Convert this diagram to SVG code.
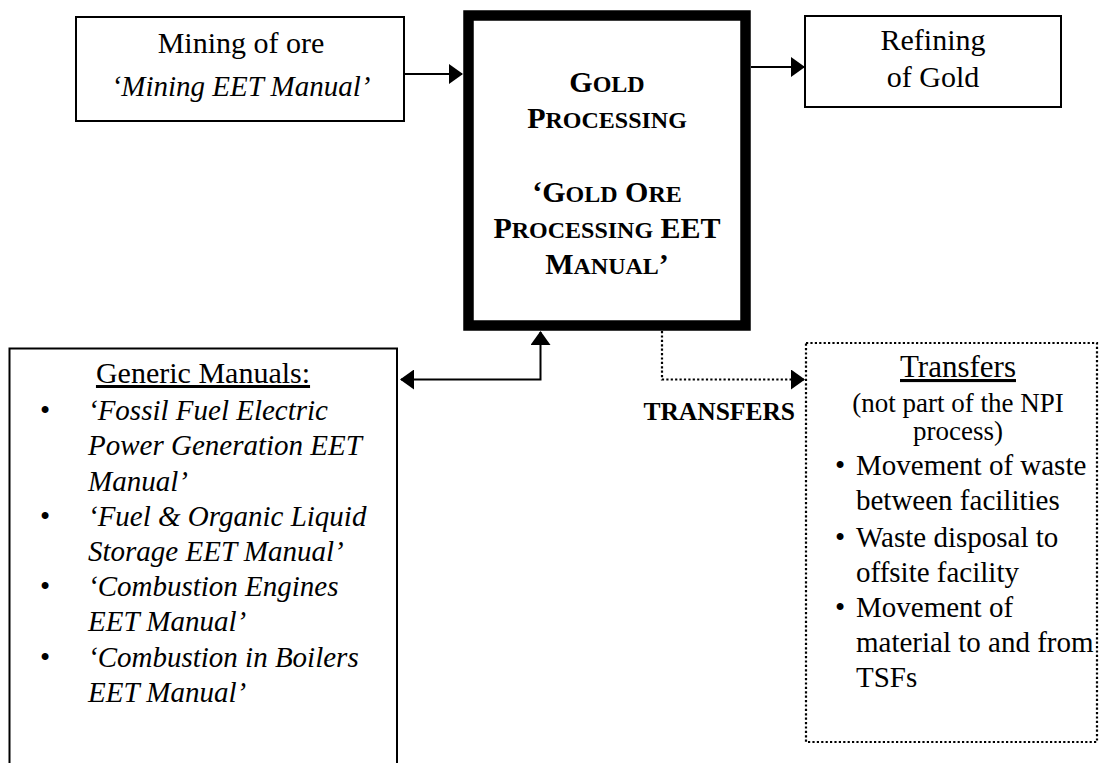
<svg xmlns="http://www.w3.org/2000/svg" width="1099" height="763" viewBox="0 0 1099 763">
  <style>
    .box { fill: #fff; stroke: #000; stroke-width: 2; }
    .thick { fill: #fff; stroke: #000; stroke-width: 10.5; }
    .dotbox { fill: none; stroke: #000; stroke-width: 2.2; stroke-dasharray: 2.2 2.2; }
    .t { font-family: "Liberation Serif", "Times New Roman", serif; fill: #000; }
    .b { font-weight: bold; }
    .i { font-style: italic; }
    .c { text-anchor: middle; }
    .link { fill: none; stroke: #000; stroke-width: 2; }
    .dotlink { fill: none; stroke: #000; stroke-width: 2.2; stroke-dasharray: 2.2 2.2; }
  </style>
  <defs>
    <marker id="ah" markerUnits="userSpaceOnUse" markerWidth="14" markerHeight="20" viewBox="0 0 14 20" refX="13" refY="10" orient="auto-start-reverse">
      <path d="M0,0 L14,10 L0,20 Z" fill="#000"/>
    </marker>
  </defs>

  <rect width="1099" height="763" fill="#fff"/>

  <!-- connectors -->
  <g id="connectors">
    <path class="link" d="M404,74 H462" marker-end="url(#ah)"/>
    <path class="link" d="M751,67 H804" marker-end="url(#ah)"/>
    <path class="link" d="M401,379.5 H540.5 V332" marker-start="url(#ah)" marker-end="url(#ah)"/>
    <path class="dotlink" d="M662,331 V379.5 H804" marker-end="url(#ah)"/>
  </g>

  <!-- mining -->
  <g id="mining">
    <rect class="box" x="76" y="17" width="328" height="104"/>
    <text class="t c" x="241" y="53" font-size="30">Mining of ore</text>
    <text class="t c i" x="241" y="96" font-size="29">‘Mining EET Manual’</text>
  </g>

  <!-- gold processing -->
  <g id="gold">
    <rect class="thick" x="468.5" y="15.5" width="277" height="310"/>
    <text class="t c b" x="607" y="92" font-size="30">G<tspan font-size="24">OLD</tspan></text>
    <text class="t c b" x="607" y="128" font-size="30">P<tspan font-size="24">ROCESSING</tspan></text>
    <text class="t c b" x="607" y="202" font-size="30">‘G<tspan font-size="24">OLD</tspan> O<tspan font-size="24">RE</tspan></text>
    <text class="t c b" x="607" y="238" font-size="30">P<tspan font-size="24">ROCESSING</tspan> EET</text>
    <text class="t c b" x="607" y="274" font-size="30">M<tspan font-size="24">ANUAL</tspan>’</text>
  </g>

  <!-- refining -->
  <g id="refining">
    <rect class="box" x="805" y="16" width="256" height="91"/>
    <text class="t c" x="933" y="50" font-size="30">Refining</text>
    <text class="t c" x="933" y="87" font-size="30">of Gold</text>
  </g>

  <!-- generic manuals -->
  <g id="generic">
    <rect class="box" x="9.5" y="348.5" width="387.5" height="440"/>
    <text class="t c" x="203" y="383" font-size="30" text-decoration="underline">Generic Manuals:</text>
    <g class="t" font-size="29">
      <text x="40" y="420">•</text>
      <text class="i" x="88" y="420">‘Fossil Fuel Electric</text>
      <text class="i" x="88" y="455">Power Generation EET</text>
      <text class="i" x="88" y="490.5">Manual’</text>
      <text x="40" y="525.5">•</text>
      <text class="i" x="88" y="525.5">‘Fuel &amp; Organic Liquid</text>
      <text class="i" x="88" y="561">Storage EET Manual’</text>
      <text x="40" y="596">•</text>
      <text class="i" x="88" y="596">‘Combustion Engines</text>
      <text class="i" x="88" y="631">EET Manual’</text>
      <text x="40" y="666.5">•</text>
      <text class="i" x="88" y="666.5">‘Combustion in Boilers</text>
      <text class="i" x="88" y="701.5">EET Manual’</text>
    </g>
  </g>

  <!-- transfers label -->
  <g id="transfers-label">
    <text class="t b" x="795" y="420" font-size="25.5" text-anchor="end">TRANSFERS</text>
  </g>

  <!-- transfers -->
  <g id="transfers">
    <rect class="dotbox" x="806" y="343" width="291" height="399"/>
    <text class="t c" x="958" y="377" font-size="31" text-decoration="underline">Transfers</text>
    <text class="t c" x="958" y="412" font-size="27">(not part of the NPI</text>
    <text class="t c" x="958" y="440" font-size="27">process)</text>
    <g class="t" font-size="29">
      <text x="835" y="475">•</text>
      <text x="856" y="475">Movement of waste</text>
      <text x="856" y="510">between facilities</text>
      <text x="835" y="546.5">•</text>
      <text x="856" y="546.5">Waste disposal to</text>
      <text x="856" y="581.5">offsite facility</text>
      <text x="835" y="616.5">•</text>
      <text x="856" y="616.5">Movement of</text>
      <text x="856" y="651.5">material to and from</text>
      <text x="856" y="686.5">TSFs</text>
    </g>
  </g>
</svg>
